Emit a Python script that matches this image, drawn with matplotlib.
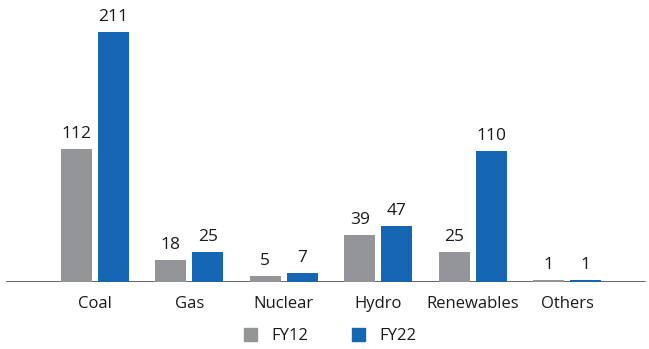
import matplotlib.pyplot as plt
from matplotlib.patches import Patch
import numpy as np

plt.rcParams["font.family"] = ["Open Sans", "DejaVu Sans"]

categories = ["Coal", "Gas", "Nuclear", "Hydro", "Renewables", "Others"]
fy12 = [112, 18, 5, 39, 25, 1]
fy22 = [211, 25, 7, 47, 110, 1]

gray = "#939598"
blue = "#1667b3"

fig = plt.figure(figsize=(6.49, 3.49), dpi=100)
ax = fig.add_axes([0, 67.5 / 349, 1, 281.5 / 349])

x = np.arange(len(categories))
w = 0.328
off = 0.196

b1 = ax.bar(x - off, fy12, w, color=gray, zorder=3)
b2 = ax.bar(x + off, fy22, w, color=blue, zorder=3)

for bars, vals in ((b1, fy12), (b2, fy22)):
    for bar, v in zip(bars, vals):
        ax.annotate(str(v), (bar.get_x() + bar.get_width() / 2, v),
                    xytext=(0, 5), textcoords="offset points",
                    ha="center", va="bottom", fontsize=12.5, color="#1a1a1a")

ax.set_xlim(-1.006, 5.869)
ax.set_ylim(0, 238)
ax.axhline(0, xmin=7 / 649, xmax=645 / 649, color="#4d4d4d", lw=1.2, zorder=2)

for s in ax.spines.values():
    s.set_visible(False)
ax.set_yticks([])
ax.set_xticks(x)
ax.set_xticklabels(categories, fontsize=12, color="#1a1a1a")
ax.tick_params(axis="x", length=0, pad=10.5)
ax.patch.set_visible(False)

handles = [Patch(color=gray, label="FY12"), Patch(color=blue, label="FY22")]
fig.legend(handles=handles, loc="center", bbox_to_anchor=(330 / 649, 1 - 336 / 349),
           ncol=2, frameon=False, fontsize=12, handlelength=0.82, handleheight=0.82,
           handletextpad=0.85, columnspacing=2.6, labelcolor="#1a1a1a")

fig.savefig("out.png", dpi=100)
